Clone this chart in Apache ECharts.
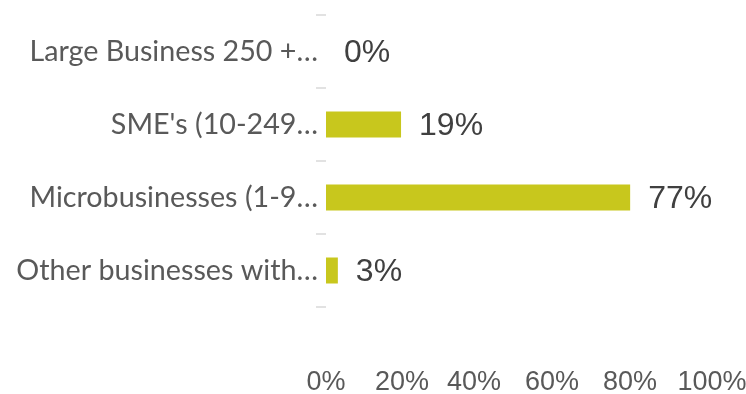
<!DOCTYPE html>
<html>
<head>
<meta charset="utf-8">
<script src="https://cdn.jsdelivr.net/npm/echarts@6/dist/echarts.min.js"></script>
<style>html,body{margin:0;padding:0;background:#fff}#c{width:746px;height:394px}</style>
</head>
<body>
<div id="c"></div>
<script>
const categories = ["Large Business 250 +…", "SME's (10-249…", "Microbusinesses (1-9…", "Other businesses with…"];
const values = [0, 19, 77, 3];
const xTicks = [0, 20, 40, 60, 80, 100];

// per-label horizontal nudge (right padding, px) to mimic the source's label placement
const labelNudge = [0, 6, 20, 22, 24, 18];
const xFont = { color: '#595959', fontFamily: 'Liberation Sans', fontSize: 27 };
const rich = {};
labelNudge.forEach((p, i) => { rich['p' + i] = Object.assign({ padding: [0, p, 0, 0] }, xFont); });

const chart = echarts.init(document.getElementById('c'));
chart.setOption({
  animation: false,
  grid: { left: 326, width: 395, top: 15, height: 292, containLabel: false, outerBoundsMode: 'none' },
  xAxis: {
    type: 'value', min: xTicks[0], max: xTicks[xTicks.length - 1], interval: 20,
    axisLine: { show: false }, axisTick: { show: false }, splitLine: { show: false },
    axisLabel: Object.assign({
      margin: 62,
      formatter: (v) => { const i = xTicks.indexOf(v); return '{p' + i + '|' + v + '%}'; },
      rich: rich
    }, xFont)
  },
  yAxis: {
    type: 'category', data: categories, inverse: true,
    axisLine: { show: false },
    axisTick: { show: true, length: 10, lineStyle: { color: '#d9d9d9', width: 1.5 } },
    axisLabel: { color: '#595959', fontFamily: 'Lato', fontSize: 28.7, margin: 8 }
  },
  series: [{
    type: 'bar', data: values, barWidth: 26,
    itemStyle: { color: '#c8c71d' },
    label: { show: true, position: 'right', distance: 18, offset: [0, 2], formatter: '{c}%', color: '#404040', fontFamily: 'Liberation Sans', fontSize: 32 }
  }]
});
</script>
</body>
</html>
